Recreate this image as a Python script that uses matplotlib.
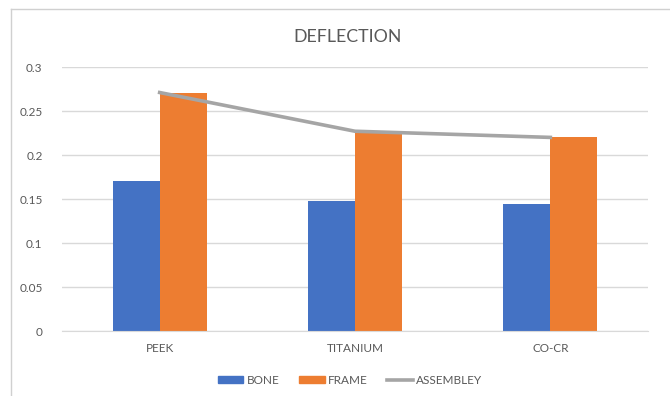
import numpy as np
import matplotlib.pyplot as plt
from matplotlib.patches import Rectangle
from matplotlib.lines import Line2D

plt.rcParams['font.family'] = ['Lato', 'DejaVu Sans']

# --- DATA ---
materials = ["PEEK", "TITANIUM", "CO-CR"]
bone = [0.170, 0.148, 0.144]
frame = [0.271, 0.225, 0.220]
assembley = [0.271, 0.227, 0.220]
y_ticks = [0, 0.05, 0.1, 0.15, 0.2, 0.25, 0.3]
y_tick_labels = ["0", "0.05", "0.1", "0.15", "0.2", "0.25", "0.3"]

text_color = "#595959"
grid_color = "#d9d9d9"

fig = plt.figure(figsize=(6.7, 3.96), dpi=100)

# chart frame: only the top and left edges fall inside the image
x0, y0 = 11 / 670, 1 - 9 / 396
fig.lines.append(Line2D([x0, 1.0], [y0, y0], transform=fig.transFigure,
                        color="#d0d0d0", linewidth=1.0))
fig.lines.append(Line2D([x0, x0], [0.0, y0], transform=fig.transFigure,
                        color="#d0d0d0", linewidth=1.0))

ax = fig.add_axes([62 / 670, 1 - 331 / 396, 586 / 670, 264 / 396])

x = np.arange(len(materials))
width = 0.24
ax.bar(x - width / 2, bone, width, color="#4472C4", label="BONE", zorder=2)
ax.bar(x + width / 2, frame, width, color="#ED7D31", label="FRAME", zorder=2)
ax.plot(x, assembley, color="#A5A5A5", linewidth=2.6, label="ASSEMBLEY", zorder=3)

ax.set_xlim(-0.5, len(materials) - 0.5)
ax.set_ylim(0, 0.3)
ax.set_yticks(y_ticks)
ax.set_yticklabels(y_tick_labels)
ax.set_xticks(x)
ax.set_xticklabels(materials)
ax.tick_params(length=0, colors=text_color, labelsize=8.5)
ax.tick_params(axis="x", pad=9)
ax.tick_params(axis="y", pad=14)
ax.grid(axis="y", color=grid_color, linewidth=1.0, zorder=0)
for side in ["top", "right", "left"]:
    ax.spines[side].set_visible(False)
ax.spines["bottom"].set_color(grid_color)

fig.text(348 / 670, 1 - 37 / 396, "DEFLECTION", ha="center", va="center",
         fontsize=12.8, color=text_color)

handles = [
    Rectangle((0, 0), 1, 1, color="#4472C4"),
    Rectangle((0, 0), 1, 1, color="#ED7D31"),
    Line2D([0], [0], color="#A5A5A5", linewidth=2.6),
]
fig.legend(handles, ["BONE", "FRAME", "ASSEMBLEY"], loc="center",
           bbox_to_anchor=(350 / 670, 1 - 380 / 396), ncol=3, frameon=False,
           fontsize=8.5, labelcolor=text_color, handlelength=2.2, handleheight=0.6,
           handletextpad=0.3, columnspacing=1.6)

fig.savefig("out.png", dpi=100)
